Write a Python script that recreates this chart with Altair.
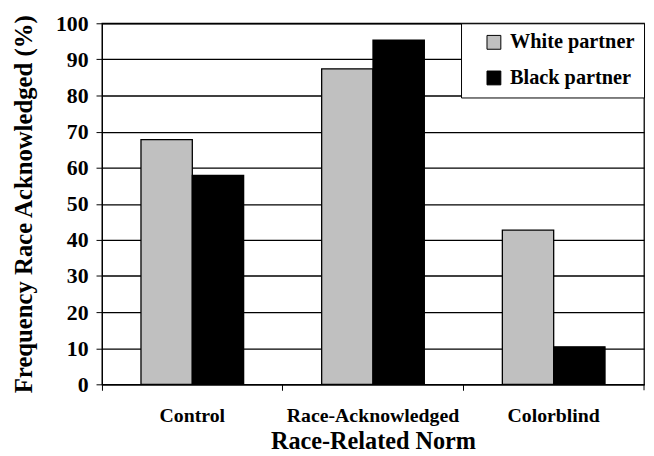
import altair as alt
import pandas as pd

norms = ["Control", "Race-Acknowledged", "Colorblind"]
partners = ["White partner", "Black partner"]
white_vals = [67.8, 87.4, 42.7]
black_vals = [57.9, 95.3, 10.4]
y_ticks = list(range(0, 101, 10))

rows = []
for n, w, b in zip(norms, white_vals, black_vals):
    rows.append({"norm": n, "partner": partners[0], "value": w})
    rows.append({"norm": n, "partner": partners[1], "value": b})
df = pd.DataFrame(rows)

FONT = "Liberation Serif"

bars = alt.Chart(df).mark_bar(stroke="black", strokeWidth=1.3).encode(
    x=alt.X("norm:N", sort=norms,
            scale=alt.Scale(paddingInner=0, paddingOuter=0),
            axis=alt.Axis(title="Race-Related Norm", labelAngle=0, bandPosition=0,
                          tickSize=6, tickColor="black", domainColor="black",
                          labelFont=FONT, labelFontWeight="bold", labelFontSize=20,
                          labelColor="black", labelPadding=16,
                          titleFont=FONT, titleFontWeight="bold", titleFontSize=24.5,
                          titleColor="black", titlePadding=4, grid=False)),
    xOffset=alt.XOffset("partner:N", sort=partners,
                        scale=alt.Scale(paddingInner=0, paddingOuter=0.76)),
    y=alt.Y("value:Q", scale=alt.Scale(domain=[0, 100], nice=False),
            axis=alt.Axis(title="Frequency Race Acknowledged (%)", values=y_ticks,
                          format="d", tickSize=6, tickColor="black",
                          domainColor="black", gridColor="black", gridWidth=1.3,
                          labelFont=FONT, labelFontWeight="bold", labelFontSize=22,
                          labelColor="black", labelPadding=8,
                          titleFont=FONT, titleFontWeight="bold", titleFontSize=25,
                          titleColor="black", titlePadding=19)),
    color=alt.Color("partner:N", sort=partners,
                    scale=alt.Scale(domain=partners, range=["#c0c0c0", "#000000"]),
                    legend=alt.Legend(title=None, orient="top-right", offset=0,
                                      strokeColor="black", fillColor="white",
                                      padding=9, symbolOffset=14,
                                      symbolType="square", symbolSize=196,
                                      symbolStrokeColor="black", symbolStrokeWidth=1,
                                      labelFont=FONT, labelFontWeight="bold",
                                      labelFontSize=20.5, labelColor="black",
                                      labelOffset=6, rowPadding=15, labelLimit=300)),
)

edge_tick = alt.Chart(pd.DataFrame({"k": [0]})).mark_rule(color="black", strokeWidth=1).encode(
    x=alt.value(548), y=alt.value(365), y2=alt.value(371)
)

chart = alt.layer(bars, edge_tick).properties(
    width=548, height=365,
    autosize=alt.AutoSizeParams(type="none"),
    padding={"left": 95, "top": 13, "right": 2, "bottom": 70},
    background="white",
).configure_view(stroke="black", strokeWidth=1.3)

chart.save("out.html", embed_options={"renderer": "svg", "actions": False})
